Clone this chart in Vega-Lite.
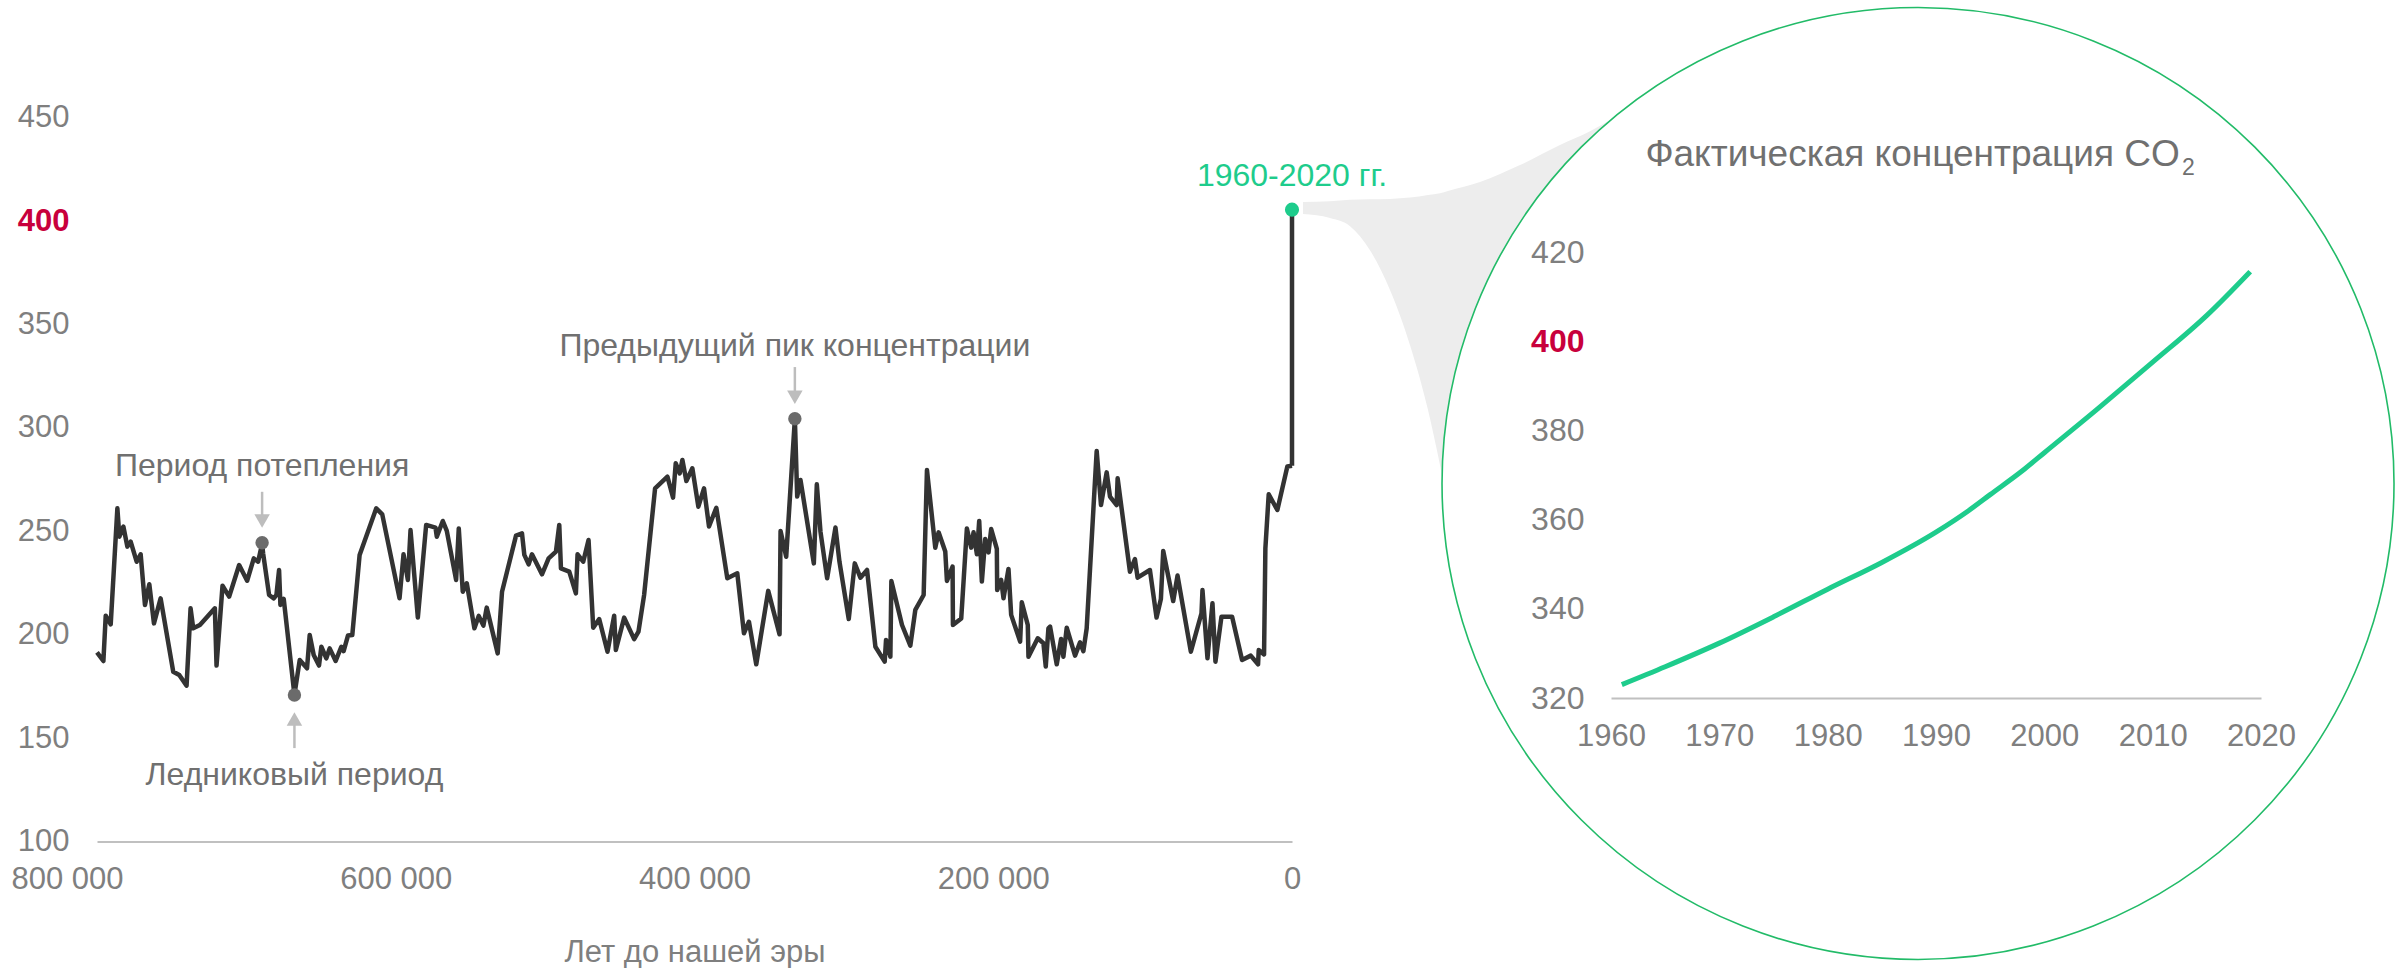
{
  "$schema": "https://vega.github.io/schema/vega-lite/v6.json",
  "width": 2395,
  "height": 968,
  "padding": 0,
  "autosize": "none",
  "background": "white",
  "config": {"font": "Liberation Sans", "view": {"stroke": null}},
  "datasets": {
    "ice": [
      {"ago":800000,"co2":191.5},{"ago":795720,"co2":187.3},{"ago":794160,"co2":209.2},{"ago":790820,"co2":205.0},{"ago":786360,"co2":261.1},{"ago":785030,"co2":247.4},{"ago":782350,"co2":252.3},{"ago":779680,"co2":242.6},{"ago":777460,"co2":245.0},{"ago":773450,"co2":235.3},{"ago":770770,"co2":238.9},{"ago":767880,"co2":214.4},{"ago":764980,"co2":224.4},{"ago":761860,"co2":205.5},{"ago":757410,"co2":217.6},{"ago":748940,"co2":182.1},{"ago":744930,"co2":180.5},{"ago":740030,"co2":175.4},{"ago":737360,"co2":212.8},{"ago":735580,"co2":203.1},{"ago":731120,"co2":204.7},{"ago":721100,"co2":212.8},{"ago":719980,"co2":185.1},{"ago":715970,"co2":223.7},{"ago":711520,"co2":218.4},{"ago":704840,"co2":233.7},{"ago":699490,"co2":226.1},{"ago":695030,"co2":236.9},{"ago":692140,"co2":235.3},{"ago":689470,"co2":244.0},{"ago":688800,"co2":239.4},{"ago":684790,"co2":219.2},{"ago":681670,"co2":217.6},{"ago":679890,"co2":219.2},{"ago":678110,"co2":231.3},{"ago":677220,"co2":214.4},{"ago":674990,"co2":217.3},{"ago":667830,"co2":171.0},{"ago":664290,"co2":187.8},{"ago":659390,"co2":183.8},{"ago":657610,"co2":199.9},{"ago":654930,"co2":190.2},{"ago":651370,"co2":185.1},{"ago":649810,"co2":194.2},{"ago":646470,"co2":188.6},{"ago":644240,"co2":193.4},{"ago":640230,"co2":187.3},{"ago":636440,"co2":194.2},{"ago":634890,"co2":192.1},{"ago":632000,"co2":199.6},{"ago":629090,"co2":199.9},{"ago":624190,"co2":238.6},{"ago":613050,"co2":261.1},{"ago":609040,"co2":258.2},{"ago":597460,"co2":217.6},{"ago":594790,"co2":238.9},{"ago":591890,"co2":226.5},{"ago":590110,"co2":250.6},{"ago":585210,"co2":208.3},{"ago":579640,"co2":253.1},{"ago":573400,"co2":251.8},{"ago":572510,"co2":247.4},{"ago":568500,"co2":255.0},{"ago":565830,"co2":250.2},{"ago":559590,"co2":226.5},{"ago":557810,"co2":251.4},{"ago":555140,"co2":220.8},{"ago":552460,"co2":224.9},{"ago":547340,"co2":203.1},{"ago":544450,"co2":209.1},{"ago":541320,"co2":204.4},{"ago":539100,"co2":213.1},{"ago":531750,"co2":191.0},{"ago":528850,"co2":220.8},{"ago":519490,"co2":247.9},{"ago":515480,"co2":249.0},{"ago":513920,"co2":238.6},{"ago":511020,"co2":234.0},{"ago":508800,"co2":238.9},{"ago":502110,"co2":229.2},{"ago":497660,"co2":236.9},{"ago":492750,"co2":240.2},{"ago":490530,"co2":253.1},{"ago":489410,"co2":232.1},{"ago":483850,"co2":230.5},{"ago":479400,"co2":220.0},{"ago":478290,"co2":238.9},{"ago":474490,"co2":235.3},{"ago":470930,"co2":245.8},{"ago":467810,"co2":203.4},{"ago":463800,"co2":207.6},{"ago":458230,"co2":191.8},{"ago":453780,"co2":209.2},{"ago":452660,"co2":192.6},{"ago":447090,"co2":208.3},{"ago":440410,"co2":197.9},{"ago":437510,"co2":201.5},{"ago":433730,"co2":219.2},{"ago":426380,"co2":270.8},{"ago":418130,"co2":276.4},{"ago":414350,"co2":266.3},{"ago":412560,"co2":282.9},{"ago":409890,"co2":278.0},{"ago":408110,"co2":284.5},{"ago":405440,"co2":274.3},{"ago":401430,"co2":280.5},{"ago":397420,"co2":261.9},{"ago":393630,"co2":270.8},{"ago":390290,"co2":252.3},{"ago":385390,"co2":261.4},{"ago":378040,"co2":227.3},{"ago":371360,"co2":229.7},{"ago":366900,"co2":200.7},{"ago":363560,"co2":206.3},{"ago":358660,"co2":185.7},{"ago":350640,"co2":221.2},{"ago":343060,"co2":200.2},{"ago":342390,"co2":250.2},{"ago":338610,"co2":237.7},{"ago":332810,"co2":304.4},{"ago":331250,"co2":266.8},{"ago":329030,"co2":274.8},{"ago":320120,"co2":234.5},{"ago":318110,"co2":272.7},{"ago":315660,"co2":249.8},{"ago":311210,"co2":227.3},{"ago":305640,"co2":251.8},{"ago":302960,"co2":235.3},{"ago":296730,"co2":207.6},{"ago":292720,"co2":234.5},{"ago":288930,"co2":227.6},{"ago":284480,"co2":231.3},{"ago":278900,"co2":194.2},{"ago":272670,"co2":187.0},{"ago":271780,"co2":197.5},{"ago":268880,"co2":189.4},{"ago":268210,"co2":226.0},{"ago":261080,"co2":204.7},{"ago":255510,"co2":194.7},{"ago":252170,"co2":212.0},{"ago":246600,"co2":219.2},{"ago":244380,"co2":279.6},{"ago":238800,"co2":242.1},{"ago":236580,"co2":249.5},{"ago":232120,"co2":240.2},{"ago":231010,"co2":226.0},{"ago":227220,"co2":232.9},{"ago":227000,"co2":204.7},{"ago":221430,"co2":207.9},{"ago":217650,"co2":251.4},{"ago":214750,"co2":242.1},{"ago":213190,"co2":249.5},{"ago":210960,"co2":238.9},{"ago":209400,"co2":255.0},{"ago":207620,"co2":225.7},{"ago":205390,"co2":246.3},{"ago":203160,"co2":239.8},{"ago":201380,"co2":251.1},{"ago":197600,"co2":241.5},{"ago":197370,"co2":221.6},{"ago":194700,"co2":226.5},{"ago":193140,"co2":217.6},{"ago":189800,"co2":231.8},{"ago":188010,"co2":209.6},{"ago":182000,"co2":196.7},{"ago":180890,"co2":215.7},{"ago":176880,"co2":204.7},{"ago":176430,"co2":189.4},{"ago":170200,"co2":198.3},{"ago":166400,"co2":195.9},{"ago":164850,"co2":184.6},{"ago":163070,"co2":203.1},{"ago":161950,"co2":203.9},{"ago":157500,"co2":185.7},{"ago":154600,"co2":197.9},{"ago":153040,"co2":189.4},{"ago":150810,"co2":203.4},{"ago":145240,"co2":189.9},{"ago":141900,"co2":196.3},{"ago":139670,"co2":192.1},{"ago":137450,"co2":203.1},{"ago":130760,"co2":288.8},{"ago":127870,"co2":262.7},{"ago":124080,"co2":278.5},{"ago":121850,"co2":266.8},{"ago":117400,"co2":262.7},{"ago":116730,"co2":275.6},{"ago":108490,"co2":230.5},{"ago":105150,"co2":236.6},{"ago":103370,"co2":227.6},{"ago":95120,"co2":231.3},{"ago":90670,"co2":208.3},{"ago":87770,"co2":217.3},{"ago":86210,"co2":240.5},{"ago":79530,"co2":216.3},{"ago":76630,"co2":228.6},{"ago":67720,"co2":191.8},{"ago":60590,"co2":210.4},{"ago":59930,"co2":221.6},{"ago":56580,"co2":188.6},{"ago":53240,"co2":215.2},{"ago":51240,"co2":187.0},{"ago":47230,"co2":208.7},{"ago":40100,"co2":208.7},{"ago":33420,"co2":187.8},{"ago":27620,"co2":189.9},{"ago":22720,"co2":185.7},{"ago":22280,"co2":192.6},{"ago":18710,"co2":190.5},{"ago":17820,"co2":241.8},{"ago":15590,"co2":267.9},{"ago":9800,"co2":260.3},{"ago":3120,"co2":281.3},{"ago":0,"co2":281.7}
    ],
    "modern": [
      {"year":1961,"co2":323.0},{"year":1965,"co2":327.0},{"year":1970,"co2":332.3},{"year":1975,"co2":338.2},{"year":1980,"co2":344.4},{"year":1985,"co2":350.4},{"year":1990,"co2":357.2},{"year":1993,"co2":362.0},{"year":1995,"co2":365.6},{"year":1998,"co2":371.0},{"year":2000,"co2":375.0},{"year":2005,"co2":385.0},{"year":2010,"co2":395.3},{"year":2015,"co2":405.8},{"year":2019,"co2":415.6}
    ],
    "funnel": [
      {"fx":1931.57,"fy":431.2,"fy2":428.5},{"fx":1934.06,"fy":431.4,"fy2":427.6},{"fx":1935.91,"fy":431.7,"fy2":425.8},{"fx":1937.75,"fy":431.8,"fy2":420.4},{"fx":1939.60,"fy":431.9,"fy2":411.5},{"fx":1941.45,"fy":432.2,"fy2":399.1},{"fx":1943.11,"fy":432.8,"fy2":384.6},{"fx":1944.22,"fy":433.2,"fy2":372.2},{"fx":1944.95,"fy":433.7,"fy2":363.3},{"fx":1947.91,"fy":435.7,"fy2":359.9},{"fx":1951.60,"fy":439.5,"fy2":359.9},{"fx":1955.29,"fy":444.0,"fy2":359.9},{"fx":1958.06,"fy":447.1,"fy2":359.9},{"fx":1960.09,"fy":449.8,"fy2":359.9}
    ],
    "dots": [
      {"ago":689470,"co2":244.5},{"ago":667830,"co2":170.9},{"ago":332810,"co2":304.4}
    ],
    "arrows": [
      {"ago":689470,"from":269.1,"to":257.4,"head":255.0,"dir":"down"},
      {"ago":667830,"from":145.2,"to":156.9,"head":159.3,"dir":"up"},
      {"ago":332810,"from":329.4,"to":317.3,"head":314.8,"dir":"down"}
    ],
    "notes": [
      {"ago":689470,"at":276.7,"label":"Период потепления"},
      {"ago":667830,"at":127.4,"label":"Ледниковый период"},
      {"ago":332810,"at":334.9,"label":"Предыдущий пик концентрации"}
    ],
    "now": [
      {"ago":0,"from":281.7,"co2":405.5,"at":416.7,"label":"1960-2020 гг."}
    ]
  },
  "layer": [
    {
      "data": {"name": "funnel"},
      "mark": {"type": "area", "color": "#ededed", "opacity": 1, "interpolate": "monotone"},
      "encoding": {
        "x": {"field": "fx", "type": "quantitative", "scale": {"domain": [1960, 2020], "range": [1611, 2261], "nice": false, "zero": false}, "axis": null},
        "y": {"field": "fy", "type": "quantitative", "scale": {"domain": [320, 420], "range": [698, 252], "nice": false, "zero": false}, "axis": null},
        "y2": {"field": "fy2"}
      }
    },
    {
      "data": {"values": [{}]},
      "mark": {"type": "point", "shape": "circle", "filled": true, "fill": "white", "stroke": "#22bb68", "strokeWidth": 1.6, "size": 906300, "opacity": 1, "fillOpacity": 1, "strokeOpacity": 1},
      "encoding": {
        "x": {"datum": 1988.34, "type": "quantitative", "scale": {"domain": [1960, 2020], "range": [1611, 2261], "nice": false, "zero": false}, "axis": null},
        "y": {"datum": 368.1, "type": "quantitative", "scale": {"domain": [320, 420], "range": [698, 252], "nice": false, "zero": false}, "axis": null}
      }
    },
    {
      "data": {"name": "modern"},
      "mark": {"type": "line", "color": "#1ecc8c", "strokeWidth": 5, "interpolate": "monotone"},
      "encoding": {
        "x": {"field": "year", "type": "quantitative", "scale": {"domain": [1960, 2020], "range": [1611, 2261], "nice": false, "zero": false},
          "axis": {"orient": "bottom", "offset": -270, "values": [1960, 1970, 1980, 1990, 2000, 2010, 2020], "format": "d", "title": null, "grid": false, "ticks": false, "domain": true, "domainColor": "#c0c0c0", "domainWidth": 2, "labelFontSize": 31, "labelColor": "#7f7f7f", "labelPadding": 38, "labelBaseline": "middle", "labelFlush": false, "labelOverlap": false, "zindex": 1}},
        "y": {"field": "co2", "type": "quantitative", "scale": {"domain": [320, 420], "range": [698, 252], "nice": false, "zero": false},
          "axis": {"orient": "left", "offset": -1584, "values": [320, 340, 360, 380, 400, 420], "title": null, "grid": false, "ticks": false, "domain": false, "labelFontSize": 32, "labelPadding": 0, "labelBaseline": "middle",
            "labelColor": {"condition": {"test": "datum.value === 400", "value": "#c8003c"}, "value": "#7f7f7f"},
            "labelFontWeight": {"condition": {"test": "datum.value === 400", "value": "bold"}, "value": "normal"}, "zindex": 1}}
      }
    },
    {
      "data": {"values": [{}]},
      "mark": {"type": "text", "fontSize": 37, "color": "#707070", "align": "right", "baseline": "alphabetic"},
      "encoding": {
        "x": {"datum": 2012.5, "type": "quantitative", "scale": {"domain": [1960, 2020], "range": [1611, 2261], "nice": false, "zero": false}, "axis": null},
        "y": {"datum": 439.3, "type": "quantitative", "scale": {"domain": [320, 420], "range": [698, 252], "nice": false, "zero": false}, "axis": null},
        "text": {"value": "Фактическая концентрация CO"}
      }
    },
    {
      "data": {"values": [{}]},
      "mark": {"type": "text", "fontSize": 23, "color": "#707070", "align": "left", "baseline": "alphabetic"},
      "encoding": {
        "x": {"datum": 2012.7, "type": "quantitative", "scale": {"domain": [1960, 2020], "range": [1611, 2261], "nice": false, "zero": false}, "axis": null},
        "y": {"datum": 437.3, "type": "quantitative", "scale": {"domain": [320, 420], "range": [698, 252], "nice": false, "zero": false}, "axis": null},
        "text": {"value": "2"}
      }
    },
    {
      "data": {"name": "ice"},
      "mark": {"type": "line", "color": "#333333", "strokeWidth": 4.5, "strokeJoin": "round"},
      "encoding": {
        "x": {"field": "ago", "type": "quantitative", "scale": {"domain": [800000, 0], "range": [97, 1292], "nice": false, "zero": false},
          "axis": {"orient": "bottom", "offset": -126.4, "values": [800000, 600000, 400000, 200000, 0], "labelExpr": "datum.value == 0 ? '0' : format(datum.value / 1000, 'd') + ' 000'", "title": "Лет до нашей эры", "titleFontSize": 31, "titleColor": "#7f7f7f", "titleFontWeight": "normal", "titleY": 120, "titleBaseline": "alphabetic", "grid": false, "ticks": false, "domain": true, "domainColor": "#c0c0c0", "domainWidth": 2, "labelFontSize": 31, "labelColor": "#7f7f7f", "labelPadding": 38, "labelBaseline": "middle", "labelFlush": false, "labelOverlap": false,
            "labelOffset": {"condition": {"test": "datum.value === 800000", "value": -30}, "value": 0}}},
        "y": {"field": "co2", "type": "quantitative", "scale": {"domain": [100, 450], "range": [841.6, 117.6], "nice": false, "zero": false},
          "axis": {"orient": "left", "offset": -69, "values": [100, 150, 200, 250, 300, 350, 400, 450], "title": null, "grid": false, "ticks": false, "domain": false, "labelFontSize": 31, "labelPadding": 0, "labelBaseline": "middle",
            "labelColor": {"condition": {"test": "datum.value === 400", "value": "#c8003c"}, "value": "#7f7f7f"},
            "labelFontWeight": {"condition": {"test": "datum.value === 400", "value": "bold"}, "value": "normal"}}}
      }
    },
    {
      "data": {"name": "now"},
      "mark": {"type": "rule", "color": "#333333", "strokeWidth": 4.5},
      "encoding": {
        "x": {"field": "ago", "type": "quantitative", "scale": {"domain": [800000, 0], "range": [97, 1292], "nice": false, "zero": false}, "axis": null},
        "y": {"field": "from", "type": "quantitative", "scale": {"domain": [100, 450], "range": [841.6, 117.6], "nice": false, "zero": false}, "axis": null},
        "y2": {"field": "co2"}
      }
    },
    {
      "data": {"name": "arrows"},
      "mark": {"type": "rule", "color": "#bdbdbd", "strokeWidth": 2.5},
      "encoding": {
        "x": {"field": "ago", "type": "quantitative", "scale": {"domain": [800000, 0], "range": [97, 1292], "nice": false, "zero": false}, "axis": null},
        "y": {"field": "from", "type": "quantitative", "scale": {"domain": [100, 450], "range": [841.6, 117.6], "nice": false, "zero": false}, "axis": null},
        "y2": {"field": "to"}
      }
    },
    {
      "data": {"name": "arrows"},
      "mark": {"type": "point", "filled": true, "color": "#bdbdbd", "size": 240, "opacity": 1},
      "encoding": {
        "x": {"field": "ago", "type": "quantitative", "scale": {"domain": [800000, 0], "range": [97, 1292], "nice": false, "zero": false}, "axis": null},
        "y": {"field": "head", "type": "quantitative", "scale": {"domain": [100, 450], "range": [841.6, 117.6], "nice": false, "zero": false}, "axis": null},
        "shape": {"field": "dir", "type": "nominal", "scale": {"domain": ["down", "up"], "range": ["triangle-down", "triangle-up"]}, "legend": null}
      }
    },
    {
      "data": {"name": "dots"},
      "mark": {"type": "point", "filled": true, "color": "#6b6b6b", "size": 180, "opacity": 1},
      "encoding": {
        "x": {"field": "ago", "type": "quantitative", "scale": {"domain": [800000, 0], "range": [97, 1292], "nice": false, "zero": false}, "axis": null},
        "y": {"field": "co2", "type": "quantitative", "scale": {"domain": [100, 450], "range": [841.6, 117.6], "nice": false, "zero": false}, "axis": null}
      }
    },
    {
      "data": {"name": "now"},
      "mark": {"type": "point", "filled": true, "color": "#1ecc8c", "size": 200, "opacity": 1},
      "encoding": {
        "x": {"field": "ago", "type": "quantitative", "scale": {"domain": [800000, 0], "range": [97, 1292], "nice": false, "zero": false}, "axis": null},
        "y": {"field": "co2", "type": "quantitative", "scale": {"domain": [100, 450], "range": [841.6, 117.6], "nice": false, "zero": false}, "axis": null}
      }
    },
    {
      "data": {"name": "notes"},
      "mark": {"type": "text", "fontSize": 32, "color": "#707070", "align": "center", "baseline": "alphabetic"},
      "encoding": {
        "x": {"field": "ago", "type": "quantitative", "scale": {"domain": [800000, 0], "range": [97, 1292], "nice": false, "zero": false}, "axis": null},
        "y": {"field": "at", "type": "quantitative", "scale": {"domain": [100, 450], "range": [841.6, 117.6], "nice": false, "zero": false}, "axis": null},
        "text": {"field": "label"}
      }
    },
    {
      "data": {"name": "now"},
      "mark": {"type": "text", "fontSize": 32, "color": "#1ecc8c", "align": "center", "baseline": "alphabetic"},
      "encoding": {
        "x": {"field": "ago", "type": "quantitative", "scale": {"domain": [800000, 0], "range": [97, 1292], "nice": false, "zero": false}, "axis": null},
        "y": {"field": "at", "type": "quantitative", "scale": {"domain": [100, 450], "range": [841.6, 117.6], "nice": false, "zero": false}, "axis": null},
        "text": {"field": "label"}
      }
    }
  ],
  "resolve": {"scale": {"x": "independent", "y": "independent"}, "axis": {"x": "independent", "y": "independent"}}
}
